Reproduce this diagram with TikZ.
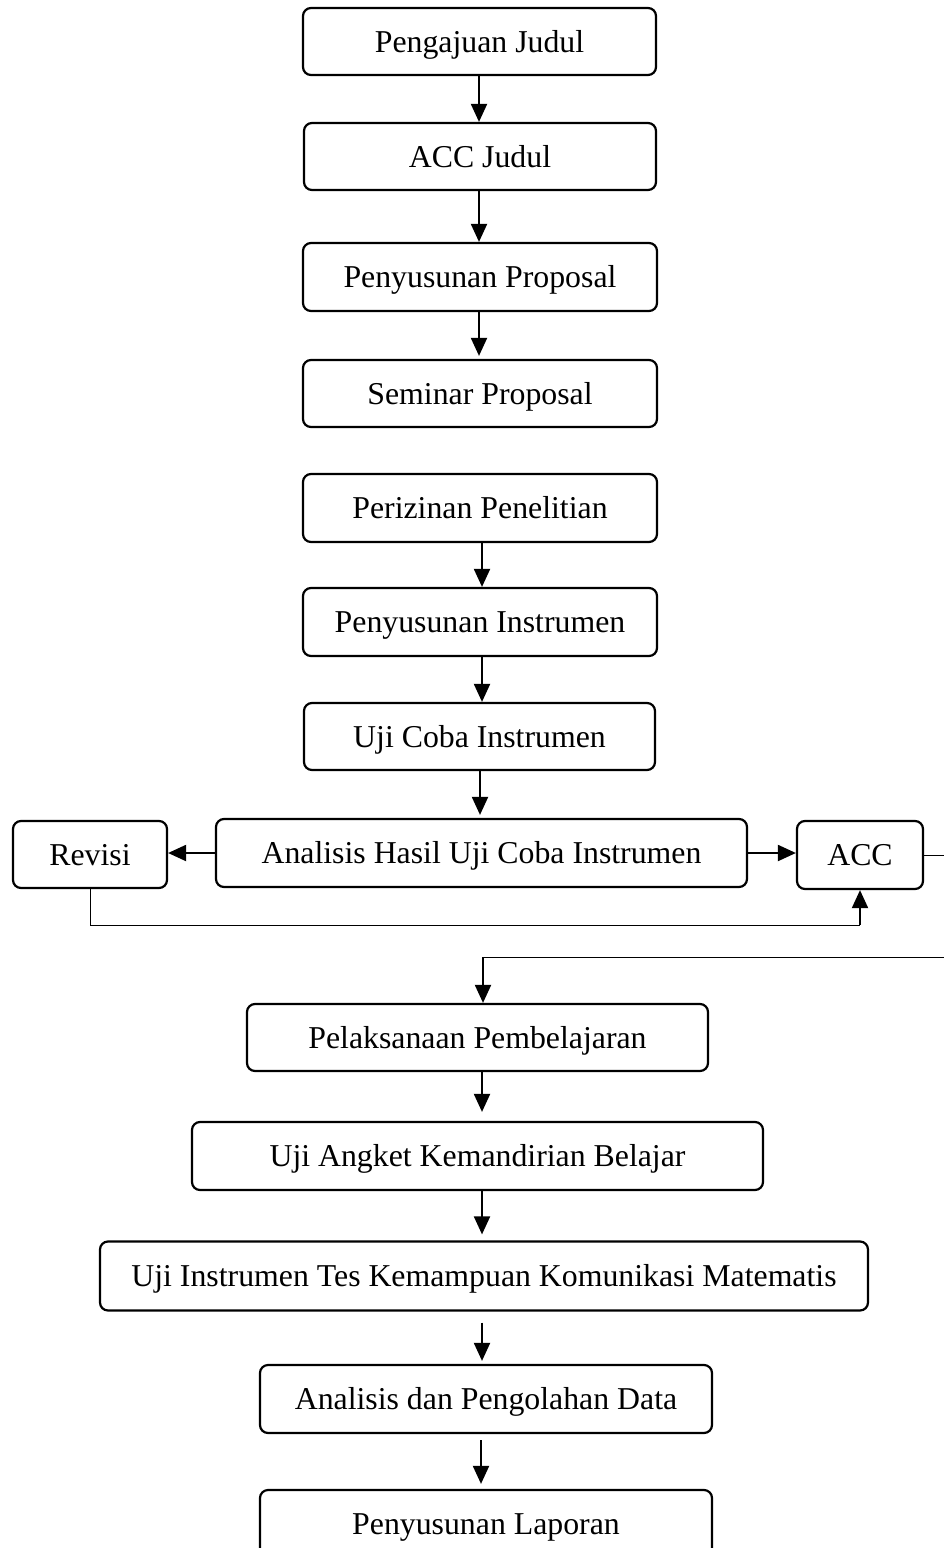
\documentclass[tikz,border=0pt]{standalone}
\usepackage{fontspec}
\setmainfont{Liberation Serif}
\usetikzlibrary{arrows.meta}
\begin{document}
\begin{tikzpicture}[x=0.5pt,y=-0.5pt,
  box/.style={draw, line width=1.1pt, rounded corners=4pt, inner sep=0pt,
    font=\fontsize{15.9}{19}\selectfont, align=center,
    text height=10.5pt, text depth=0pt},
  arr/.style={line width=1pt, -{Triangle[length=9pt,width=8pt]}},
  thinline/.style={line width=0.5pt}]
\useasboundingbox (0,0) rectangle (943,1548);

\node[box, minimum width=176.5pt, minimum height=33.5pt] (n1) at (479.5,41.5) {Pengajuan Judul};
\node[box, minimum width=176pt, minimum height=33.5pt] (n2) at (480,156.5) {ACC Judul};
\node[box, minimum width=177pt, minimum height=34pt] (n3) at (480,277) {Penyusunan Proposal};
\node[box, minimum width=177pt, minimum height=33.5pt] (n4) at (480,393.5) {Seminar Proposal};
\node[box, minimum width=177pt, minimum height=34pt] (n5) at (480,508) {Perizinan Penelitian};
\node[box, minimum width=177pt, minimum height=34pt] (n6) at (480,622) {Penyusunan Instrumen};
\node[box, minimum width=175.5pt, minimum height=33.5pt] (n7) at (479.5,736.5) {Uji Coba Instrumen};
\node[box, minimum width=265.5pt, minimum height=34pt] (n8) at (481.5,853) {Analisis Hasil Uji Coba Instrumen};
\node[box, minimum width=77pt, minimum height=33.5pt] (n9) at (90,854.5) {Revisi};
\node[box, minimum width=63pt, minimum height=34pt] (n10) at (860,855) {ACC};
\node[box, minimum width=230.5pt, minimum height=33.5pt] (n11) at (477.5,1037.5) {Pelaksanaan Pembelajaran};
\node[box, minimum width=285.5pt, minimum height=34pt] (n12) at (477.5,1156) {Uji Angket Kemandirian Belajar};
\node[box, minimum width=384pt, minimum height=34.5pt] (n13) at (484,1276) {Uji Instrumen Tes Kemampuan Komunikasi Matematis};
\node[box, minimum width=226pt, minimum height=34pt] (n14) at (486,1399) {Analisis dan Pengolahan Data};
\node[box, minimum width=226pt, minimum height=34pt] (n15) at (486,1524) {Penyusunan Laporan};

\draw[arr] (n1.south -| 479,0) -- (n2.north -| 479,0);
\draw[arr] (n2.south -| 479,0) -- (n3.north -| 479,0);
\draw[arr, shorten >=1.5pt] (n3.south -| 479,0) -- (n4.north -| 479,0);
\draw[arr] (n5.south -| 482,0) -- (n6.north -| 482,0);
\draw[arr] (n6.south -| 482,0) -- (n7.north -| 482,0);
\draw[arr, shorten >=1.5pt] (n7.south -| 480,0) -- (n8.north -| 480,0);
\draw[arr] (n8.west) -- (n8.west -| n9.east);
\draw[arr] (n8.east) -- (n8.east -| n10.west);

\coordinate (c1) at (860,925);
\draw[thinline] (n9.south) |- (c1);
\draw[arr] (c1) -- (n10.south);

\coordinate (c3) at (483,957);
\draw[thinline] (n10.east) -- ++(80,0) |- (c3);
\draw[arr] (c3) -- (c3 |- n11.north);

\draw[arr, shorten >=4.5pt] (n11.south -| 482,0) -- (n12.north -| 482,0);
\draw[arr, shorten >=3pt] (n12.south -| 482,0) -- (n13.north -| 482,0);
\draw[arr, shorten <=5.5pt, shorten >=1.5pt] (n13.south -| 482,0) -- (n14.north -| 482,0);
\draw[arr, shorten <=3pt, shorten >=2.5pt] (n14.south -| 481,0) -- (n15.north -| 481,0);
\end{tikzpicture}
\end{document}
